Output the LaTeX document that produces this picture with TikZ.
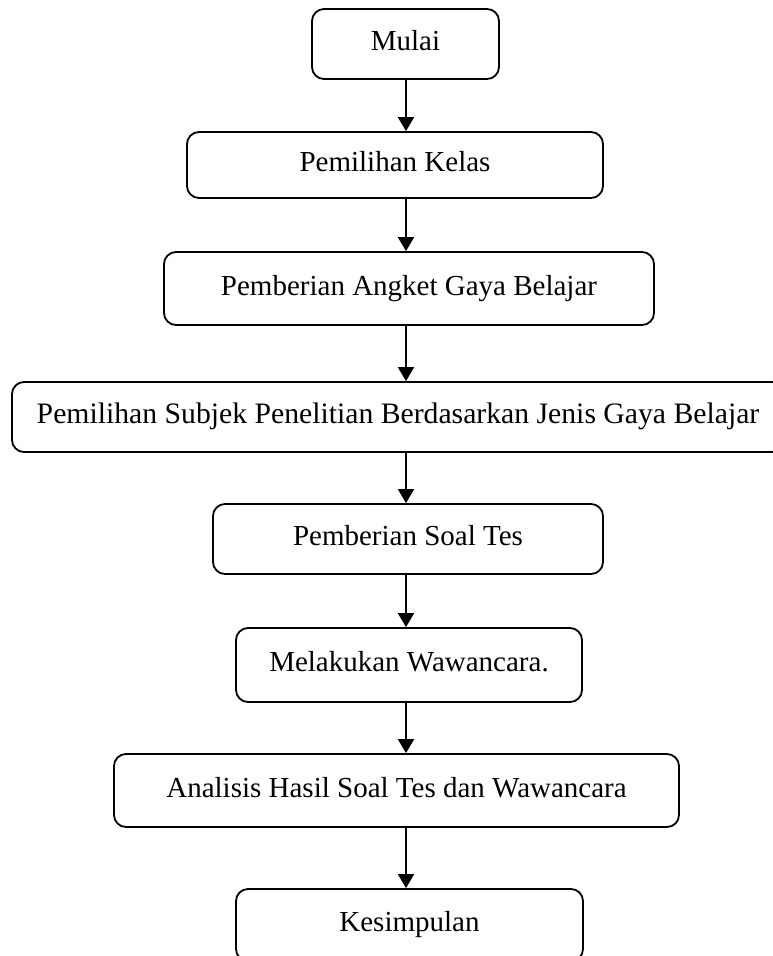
\documentclass[tikz,border=0pt]{standalone}
\usepackage{fontspec}
\setmainfont{Liberation Serif}
\usetikzlibrary{arrows.meta}
\begin{document}
\begin{tikzpicture}[x=1pt,y=-1pt,
  box/.style={draw=black, line width=1.8pt, rounded corners=12pt, inner sep=0pt,
    text height=20pt, text depth=7pt,
    font=\fontsize{29}{34}\selectfont, text=black},
  flow/.style={line width=1.8pt, -{Triangle[width=16pt,length=14pt]}}]
\useasboundingbox (0,0) rectangle (773,956);
\clip (0,0) rectangle (773,956);
\fill[white] (0,0) rectangle (773,956);
\node[box, minimum width=187pt, minimum height=70pt] (n1) at (405.5,44) {Mulai};
\node[box, minimum width=416pt, minimum height=66pt] (n2) at (395,165) {Pemilihan Kelas};
\node[box, minimum width=490pt, minimum height=73pt] (n3) at (409,288.5) {Pemberian Angket Gaya Belajar};
\node[box, minimum width=772pt, minimum height=70pt, font=\fontsize{29.7}{34}\selectfont] (n4) at (398,417) {Pemilihan Subjek Penelitian Berdasarkan Jenis Gaya Belajar};
\node[box, minimum width=390pt, minimum height=70pt] (n5) at (408,539) {Pemberian Soal Tes};
\node[box, minimum width=346pt, minimum height=74pt] (n6) at (409,665) {Melakukan Wawancara.};
\node[box, minimum width=565pt, minimum height=73pt] (n7) at (396.5,790.5) {Analisis Hasil Soal Tes dan Wawancara};
\node[box, minimum width=347pt, minimum height=72pt] (n8) at (409.5,925) {Kesimpulan};
\coordinate (ax) at (406,0);
\draw[flow] (n1.south -| ax) -- (n2.north -| ax);
\draw[flow] (n2.south -| ax) -- (n3.north -| ax);
\draw[flow] (n3.south -| ax) -- (n4.north -| ax);
\draw[flow] (n4.south -| ax) -- (n5.north -| ax);
\draw[flow] (n5.south -| ax) -- (n6.north -| ax);
\draw[flow] (n6.south -| ax) -- (n7.north -| ax);
\draw[flow] (n7.south -| ax) -- (n8.north -| ax);
\end{tikzpicture}
\end{document}
